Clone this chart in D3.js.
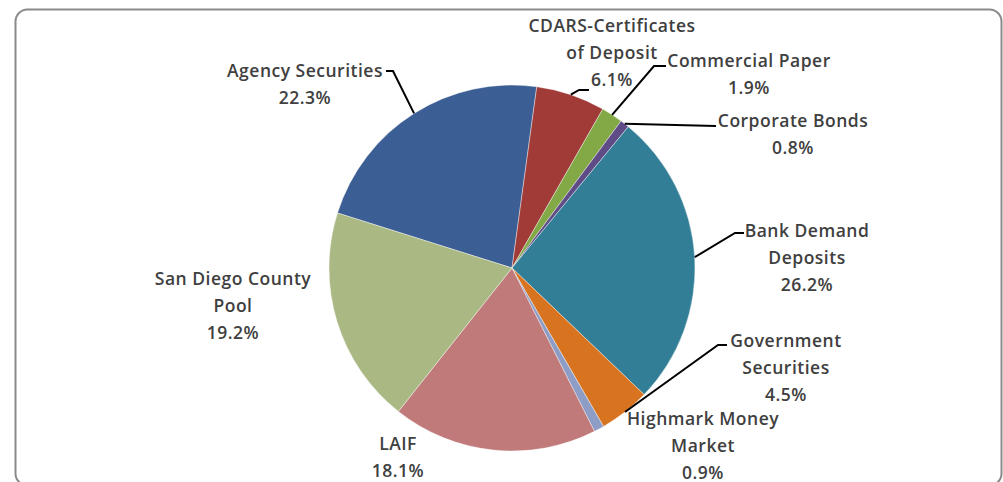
<!DOCTYPE html>
<html lang="en">
<head>
<meta charset="UTF-8">
<title>Investment Portfolio Pie</title>
<script src="https://d3js.org/d3.v7.min.js"></script>
<style>
  body { margin: 0; background: #fff; }
  svg text {
    font-family: "Open Sans", Lato, sans-serif;
    font-size: 17.5px;
    font-weight: 600;
    letter-spacing: 0.5px;
    fill: #404040;
    text-anchor: middle;
    dominant-baseline: central;
  }
</style>
</head>
<body>
<svg width="1003" height="482"></svg>
<script>
// data, in chart order (first slice = Agency Securities)
const categories = [
  "Agency Securities", "CDARS-Certificates of Deposit", "Commercial Paper",
  "Corporate Bonds", "Bank Demand Deposits", "Government Securities",
  "Highmark Money Market", "LAIF", "San Diego County Pool"
];
const values = [22.3, 6.1, 1.9, 0.8, 26.2, 4.5, 0.9, 18.1, 19.2];
const labelLines = [
  ["Agency Securities"],
  ["CDARS-Certificates", "of Deposit"],
  ["Commercial Paper"],
  ["Corporate Bonds"],
  ["Bank Demand", "Deposits"],
  ["Government", "Securities"],
  ["Highmark Money", "Market"],
  ["LAIF"],
  ["San Diego County", "Pool"]
];
const colors = ["#3b5e94", "#a03b38", "#82a946", "#5f4b86", "#327e97",
                "#d8731f", "#8e9dc5", "#bf7a79", "#aab983"];

// label layout: centre x, first line y, and leader elbow points (null = no leader)
const labelPos = [
  { x: 305, y: 70,  elbow: [[386, 71], [393, 71]] },
  { x: 612, y: 25,  elbow: [[589, 90], [579, 90]] },
  { x: 749, y: 60,  elbow: [[666, 66], [654, 66]] },
  { x: 793, y: 120, elbow: [[716, 126]] },
  { x: 807, y: 230, elbow: [[744, 233], [735, 233]] },
  { x: 786, y: 340, elbow: [[727, 345], [718, 345]] },
  { x: 703, y: 418, elbow: null },
  { x: 398, y: 443, elbow: null },
  { x: 233, y: 278, elbow: null }
];

const svg = d3.select("svg");
const cx = 512, cy = 268, r = 183;
const lineH = 27;

// chart frame
svg.append("rect")
  .attr("x", 15.5).attr("y", 9.5)
  .attr("width", 986).attr("height", 476)
  .attr("rx", 12)
  .attr("fill", "none")
  .attr("stroke", "#8a8a8a")
  .attr("stroke-width", 2);

const start = -72.5 * Math.PI / 180;
const pie = d3.pie().sort(null).value(d => d).startAngle(start).endAngle(start + 2 * Math.PI);
const arcs = pie(values);
const arc = d3.arc().innerRadius(0).outerRadius(r);

const g = svg.append("g").attr("transform", `translate(${cx},${cy})`);

g.selectAll("path")
  .data(arcs)
  .enter().append("path")
  .attr("d", arc)
  .attr("fill", (d, i) => colors[i])
  .attr("stroke", "rgba(255,255,255,0.5)")
  .attr("stroke-width", 0.8);

// leader lines from slice edge middle to label
arcs.forEach((d, i) => {
  const p = labelPos[i];
  if (!p.elbow) return;
  const a = (d.startAngle + d.endAngle) / 2;
  const edge = [cx + r * Math.sin(a), cy - r * Math.cos(a)];
  const pts = p.elbow.concat([edge]);
  svg.append("path")
    .attr("d", d3.line()(pts))
    .attr("fill", "none")
    .attr("stroke", "#000")
    .attr("stroke-width", 2);
});

// labels
arcs.forEach((d, i) => {
  const p = labelPos[i];
  const lines = labelLines[i].concat([values[i].toFixed(1) + "%"]);
  const t = svg.append("text");
  lines.forEach((s, k) => {
    t.append("tspan")
      .attr("x", p.x)
      .attr("y", p.y + k * lineH)
      .text(s);
  });
});
</script>
</body>
</html>
